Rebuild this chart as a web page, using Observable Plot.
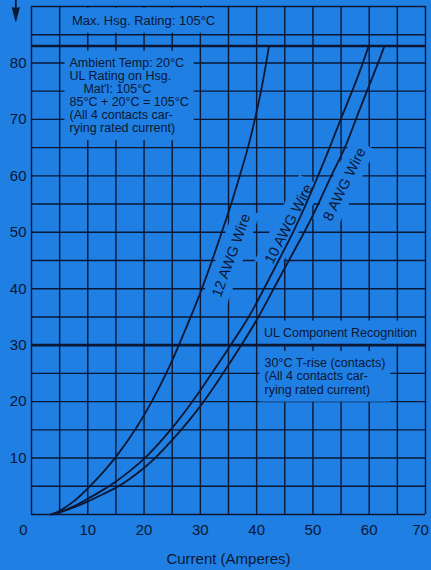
<!DOCTYPE html>
<html>
<head>
<meta charset="utf-8">
<script src="https://cdn.jsdelivr.net/npm/d3@7"></script>
<script src="https://cdn.jsdelivr.net/npm/@observablehq/plot@0.6"></script>
<style>
  html, body { margin: 0; padding: 0; background: #1f7fe3; }
</style>
</head>
<body>
<div id="chart"></div>
<script>
const bg = "#1f7fe3";
const ink = "#0b1733";

// Curves: [current (A), temperature rise (°C)]
const awg12 = [[3.5,0],[5,0.6],[7.5,2.2],[10,4.6],[12.5,7.2],[15,10.1],[18.5,15],[21.4,20],[24,25],[26.2,30],[28.3,35],[30.3,40],[32.1,45],[33.8,50],[35.5,55],[37,60],[38.5,65],[39.7,70],[40.8,75],[41.7,80],[42.2,83]];
const awg10 = [[3.5,0],[5,0.4],[7.5,1.4],[10,2.8],[12.5,4.2],[15,5.8],[17.5,7.7],[20.3,10],[25,15.2],[28.6,20],[30,22],[33.4,27],[35.5,30.2],[38.7,35],[41.3,40],[43.9,45],[46.5,50],[48.8,55],[50.9,60],[53,65],[54.9,70],[57,75],[58.9,80],[59.9,83]];
const awg8 = [[3.5,0],[5,0.3],[7.5,1.2],[10,2.3],[12.5,3.5],[15,4.7],[17.5,6.3],[20,8.2],[22,10],[25,13.1],[30,19],[33.4,24],[37.3,30],[40.4,35],[43,40],[45.7,45],[48.5,50],[51,55],[53.2,60],[55.8,65],[57.6,70],[59.6,75],[61.6,80],[62.7,83]];

const wireNames = ["12 AWG Wire", "10 AWG Wire", "8 AWG Wire"];
const wireLabelX = [35.5, 45.7, 55.6];
const wireLabelY = [45.9, 51.5, 58.5];
const wireLabelAngle = [-70, -62.5, -64];

const xTicks = [10, 20, 30, 40, 50, 60];
const yTicks = [10, 20, 30, 40, 50, 60, 70, 80];
const gridX = d3.range(0, 71, 5);
const gridY = d3.range(0, 91, 5);
const limitLines = [83, 30];

const xTitle = "Current (Amperes)";
const maxText = ["Max. Hsg. Rating: 105°C"];
const ambientText = ["Ambient Temp: 20°C\nUL Rating on Hsg.\n\u00a0\u00a0\u00a0\u00a0Mat'l: 105°C\n85°C + 20°C = 105°C\n(All 4 contacts car-\nrying rated current)"];
const ulText = ["UL Component Recognition"];
const riseText = ["30°C T-rise (contacts)\n(All 4 contacts car-\nrying rated current)"];

const wireLabels = wireNames.map((name, i) => ({name, x: wireLabelX[i], y: wireLabelY[i], a: wireLabelAngle[i]}));
const toPts = arr => arr.map(([x, y]) => ({x, y}));

const annoFont = 12.5;
const curveStyle = {x: "x", y: "y", stroke: ink, strokeWidth: 1.8, curve: "basis"};

const chart = Plot.plot({
  width: 431,
  height: 570,
  marginLeft: 31,
  marginRight: 6,
  marginTop: 6,
  marginBottom: 56,
  x: {domain: [0, 70]},
  y: {domain: [0, 90]},
  style: {background: bg, color: ink, fontFamily: "'Liberation Sans', Arial, Helvetica, sans-serif"},
  marks: [
    Plot.ruleX(gridX, {stroke: ink, strokeWidth: 1.4}),
    Plot.ruleY(gridY, {stroke: ink, strokeWidth: 1.4}),
    Plot.text(maxText, {x: () => 7.2, y: () => 88.4, text: d => d, textAnchor: "start", lineAnchor: "top", fontSize: 13, fill: ink}),
    Plot.text(ambientText, {x: () => 6.75, y: () => 81.0, text: d => d, textAnchor: "start", lineAnchor: "top", fontSize: annoFont, lineHeight: 1.05, fill: ink}),
    Plot.text(ulText, {x: () => 41.3, y: () => 33.1, text: d => d, textAnchor: "start", lineAnchor: "top", fontSize: annoFont, fill: ink}),
    Plot.text(riseText, {x: () => 41.4, y: () => 27.8, text: d => d, textAnchor: "start", lineAnchor: "top", fontSize: annoFont, lineHeight: 1.065, fill: ink}),
    Plot.text(wireLabels, {x: "x", y: "y", text: "name", rotate: "a", fontSize: 14.5, fill: ink}),
    Plot.ruleY(limitLines, {stroke: ink, strokeWidth: 2.6}),
    Plot.line(toPts(awg12), curveStyle),
    Plot.line(toPts(awg10), curveStyle),
    Plot.line(toPts(awg8), curveStyle),
    Plot.axisY(yTicks, {tickSize: 0, tickPadding: 5, fontSize: 15, label: null}),
    Plot.axisX(xTicks, {tickSize: 0, tickPadding: 10, fontSize: 15, label: null}),
    Plot.axisX([0], {tickSize: 0, tickPadding: 10, fontSize: 15, label: null, dx: -8}),
    Plot.axisX([70], {tickSize: 0, tickPadding: 10, fontSize: 15, label: null, dx: -5}),
    Plot.text([xTitle], {frameAnchor: "bottom", dy: 45, lineAnchor: "middle", fontSize: 15, fill: ink}),
    Plot.ruleX([-2.79], {y1: 91.1, y2: 89.4, stroke: ink, strokeWidth: 1.8}),
    Plot.vector([-2.79], {x: d => d, y: () => 89.83, rotate: 180, length: 14, shape: "spike", r: 3.6, anchor: "start", fill: ink, stroke: ink, strokeWidth: 0.8})
  ]
});
document.getElementById("chart").append(chart);

// Knock out the grid behind annotation texts, as in the printed chart
const keys = ["Max.", "Ambient", "UL Component", "T-rise", "AWG"];
const pad = 5;
const ns = "http://www.w3.org/2000/svg";
Array.from(chart.querySelectorAll("text"))
  .filter(t => keys.some(k => (t.textContent || "").includes(k)))
  .forEach(t => {
    const bb = t.getBBox();
    const r = document.createElementNS(ns, "rect");
    r.setAttribute("x", bb.x - pad);
    r.setAttribute("y", bb.y - pad);
    r.setAttribute("width", bb.width + 2 * pad);
    r.setAttribute("height", bb.height + 2 * pad);
    r.setAttribute("fill", bg);
    r.setAttribute("stroke", "none");
    const tr = t.getAttribute("transform");
    if (tr) r.setAttribute("transform", tr);
    t.parentNode.insertBefore(r, t);
  });
</script>
</body>
</html>
